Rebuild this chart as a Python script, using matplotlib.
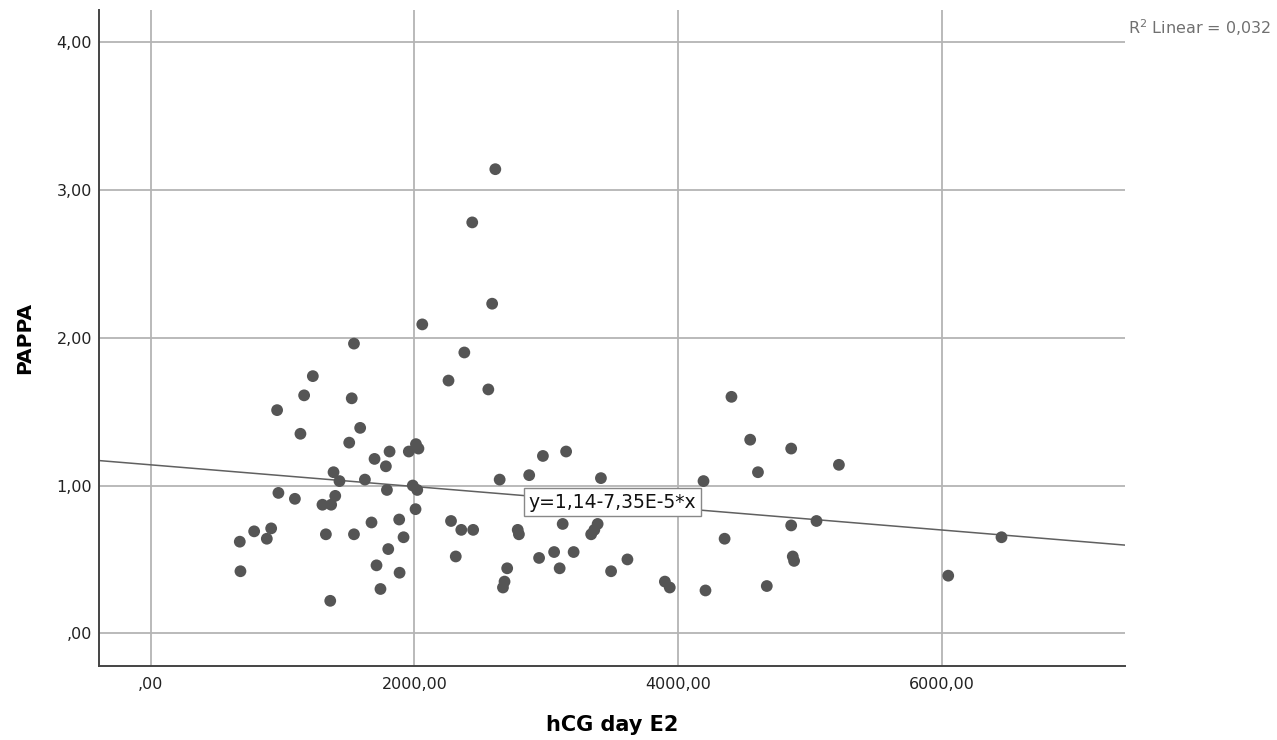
import numpy as np
import matplotlib
matplotlib.use('Agg')
import matplotlib.pyplot as plt
from matplotlib.ticker import FuncFormatter

# hCG day E2 (x) and PAPPA (y)
hcg_e2 = [
    2614, 2439, 2590, 2060, 1542, 2379, 1230, 2259, 2561, 1164,
    1525, 959, 1589, 1136, 1506, 1698, 1812, 1958, 2012, 2031,
    1784, 1387, 1432, 1625, 1792, 1988, 2022, 969, 1094, 1400,
    1303, 1369, 2009, 1675, 1885, 785, 914, 881, 676, 1329,
    1542, 1918, 1802, 1713, 1888, 681, 1743, 1362, 2647, 2871,
    2975, 3151, 3415, 2278, 2356, 2446, 2784, 2793, 3125, 3390,
    3365, 3341, 2314, 3060, 3208, 2946, 2704, 3102, 3492, 3616,
    2684, 2672, 4405, 4547, 4858, 4606, 5220, 4193, 4858, 5050,
    6453, 4353, 4870, 4880, 6049, 3900, 3937, 4208, 4673,
]
pappa = [
    3.14, 2.78, 2.23, 2.09, 1.96, 1.90, 1.74, 1.71, 1.65, 1.61,
    1.59, 1.51, 1.39, 1.35, 1.29, 1.18, 1.23, 1.23, 1.28, 1.25,
    1.13, 1.09, 1.03, 1.04, 0.97, 1.00, 0.97, 0.95, 0.91, 0.93,
    0.87, 0.87, 0.84, 0.75, 0.77, 0.69, 0.71, 0.64, 0.62, 0.67,
    0.67, 0.65, 0.57, 0.46, 0.41, 0.42, 0.30, 0.22, 1.04, 1.07,
    1.20, 1.23, 1.05, 0.76, 0.70, 0.70, 0.70, 0.67, 0.74, 0.74,
    0.70, 0.67, 0.52, 0.55, 0.55, 0.51, 0.44, 0.44, 0.42, 0.50,
    0.35, 0.31, 1.60, 1.31, 1.25, 1.09, 1.14, 1.03, 0.73, 0.76,
    0.65, 0.64, 0.52, 0.49, 0.39, 0.35, 0.31, 0.29, 0.32,
]

# fitted line as reported on the chart
intercept = 1.14
slope = -7.35e-5
r2_text = 'R$^2$ Linear = 0,032'
eq_text = 'y=1,14-7,35E-5*x'

x_ticks = [0, 2000, 4000, 6000]
y_ticks = [0, 1, 2, 3, 4]
x_lim = (-392, 7390)
y_lim = (-0.219, 4.217)


def spss_fmt(v, _=None):
    s = f'{v:.2f}'.replace('.', ',')
    if s.startswith('0,'):
        s = s[1:]
    return s


plt.rcParams['font.family'] = ['DejaVu Sans']

fig = plt.figure(figsize=(12.77, 7.40), dpi=100)
ax = fig.add_axes([0.0775, 0.1004, 0.8035, 0.8861])

ax.set_xlim(*x_lim)
ax.set_ylim(*y_lim)
ax.set_xticks(x_ticks)
ax.set_yticks(y_ticks)
ax.xaxis.set_major_formatter(FuncFormatter(spss_fmt))
ax.yaxis.set_major_formatter(FuncFormatter(spss_fmt))
ax.tick_params(length=0, labelsize=11.5, colors='#222222')
ax.tick_params(axis='x', pad=8)
ax.tick_params(axis='y', pad=5)

ax.grid(True, color='#b4b4b4', linewidth=1.3)
ax.set_axisbelow(True)
for side in ['top', 'right']:
    ax.spines[side].set_visible(False)
for side in ['left', 'bottom']:
    ax.spines[side].set_color('#444444')
    ax.spines[side].set_linewidth(1.4)

# fit line across the whole axis
xs = np.array(x_lim)
ax.plot(xs, intercept + slope * xs, color='#606060', linewidth=1.1, zorder=2)

ax.scatter(hcg_e2, pappa, s=72, color='#555555', edgecolors='none', zorder=3)

ax.text(3502, 0.888, eq_text, ha='center', va='center', fontsize=13.5,
        color='#111111', zorder=4,
        bbox=dict(boxstyle='square,pad=0.25', facecolor='white',
                  edgecolor='#888888', linewidth=1.0))

fig.text(0.9955, 0.962, r2_text, ha='right', va='center', fontsize=11.5,
         color='#707070')

ax.set_xlabel('hCG day E2', fontsize=15, fontweight='bold', labelpad=17)
ax.set_ylabel('PAPPA', fontsize=14.5, fontweight='bold', labelpad=16)

plt.savefig('out.png', dpi=100)
plt.close()
